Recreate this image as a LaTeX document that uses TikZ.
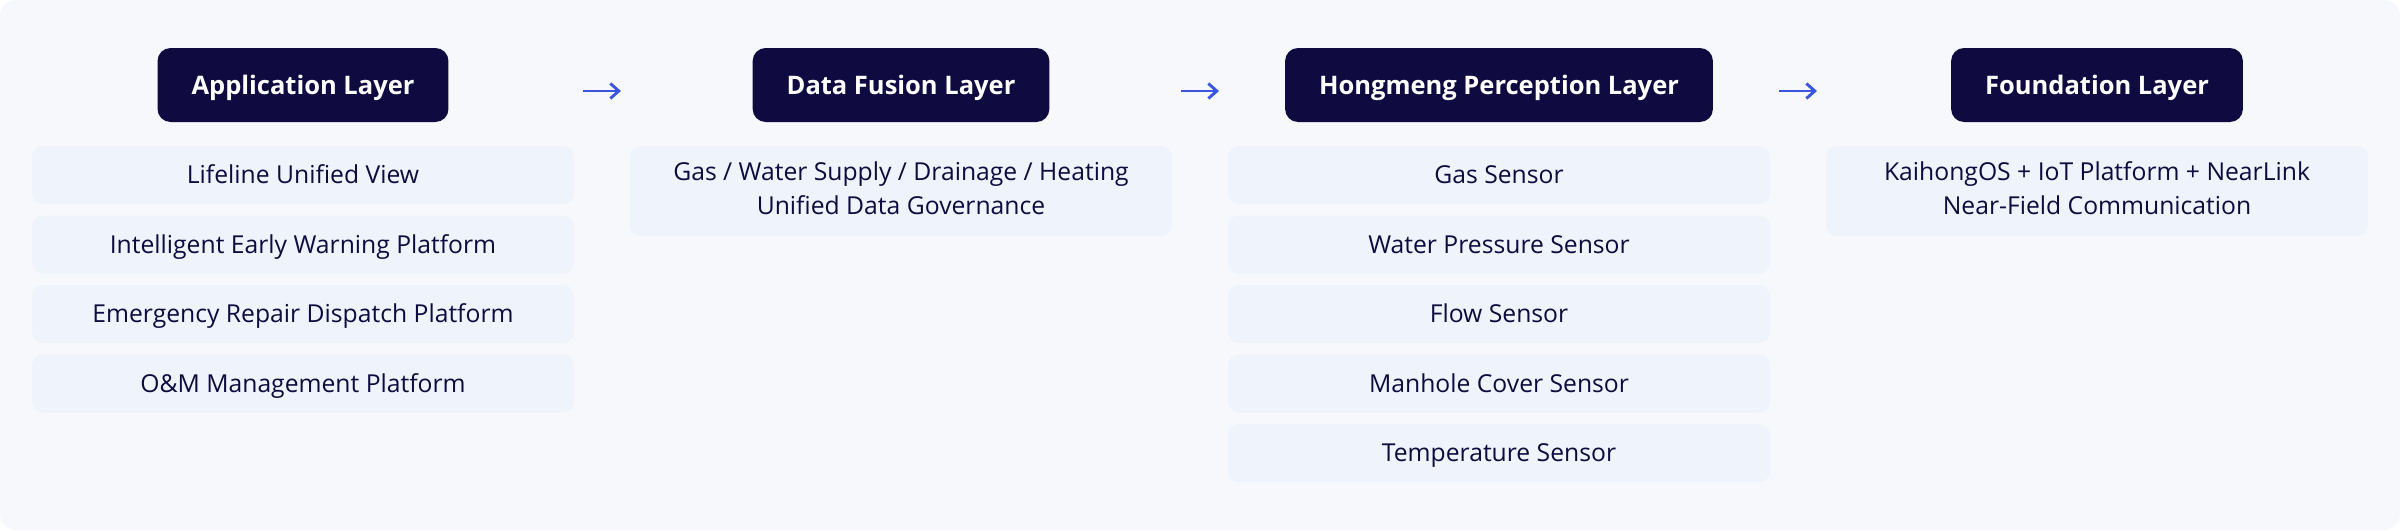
\documentclass[tikz,border=0pt]{standalone}
\usepackage{fontspec}
\setmainfont{Open Sans}
\usetikzlibrary{arrows.meta}

\definecolor{bgc}{HTML}{F7F8FB}
\definecolor{itemc}{HTML}{EEF3FC}
\definecolor{headc}{HTML}{0F0B41}
\definecolor{inkc}{HTML}{100B3F}
\definecolor{arrowc}{HTML}{3A55E0}

\newcommand{\lstrut}{\rule[-6pt]{0pt}{29.6pt}}

\begin{document}
\begin{tikzpicture}[x=1pt, y=-1pt,
    layer/.style={fill=headc, text=white, rounded corners=13pt, minimum height=74pt,
        inner xsep=34pt, inner ysep=0pt, text height=19pt, text depth=0pt,
        font=\fontsize{25.5}{30}\selectfont\bfseries},
    item/.style={fill=itemc, text=inkc, rounded corners=11pt, minimum width=542pt,
        minimum height=58pt, inner sep=0pt, align=center,
        font=\fontsize{24.7}{33.5}\selectfont,
        execute at begin node=\lstrut, execute at end node=\lstrut},
    flow/.style={draw=arrowc, line width=2.9pt, -{Straight Barb[length=8.5pt, width=15pt]}}]
    % Background
    \useasboundingbox (0,0) rectangle (2400,530);
    \fill[bgc, rounded corners=16pt] (0,0) rectangle (2400,530);

    % Application layer
    \node[layer] (app) at (303,85) {Application Layer};
    \node[item] (app1) at (303,175) {Lifeline Unified View};
    \node[item] (app2) at (303,244.5) {Intelligent Early Warning Platform};
    \node[item] (app3) at (303,314) {Emergency Repair Dispatch Platform};
    \node[item] (app4) at (303,383.5) {O\&M Management Platform};

    % Data fusion layer
    \node[layer] (fus) at (901,85) {Data Fusion Layer};
    \node[item, minimum height=90pt] (fus1) at (901,191) {Gas / Water Supply / Drainage / Heating\\Unified Data Governance};

    % Perception layer
    \node[layer] (per) at (1499,85) {Hongmeng Perception Layer};
    \node[item] (per1) at (1499,175) {Gas Sensor};
    \node[item] (per2) at (1499,244.5) {Water Pressure Sensor};
    \node[item] (per3) at (1499,314) {Flow Sensor};
    \node[item] (per4) at (1499,383.5) {Manhole Cover Sensor};
    \node[item] (per5) at (1499,453) {Temperature Sensor};

    % Foundation layer
    \node[layer] (fnd) at (2097,85) {Foundation Layer};
    \node[item, minimum height=90pt] (fnd1) at (2097,191) {KaihongOS + IoT Platform + NearLink\\Near-Field Communication};

    % Arrows between the layers
    \coordinate (a1s) at (583,91);
    \coordinate (a1e) at (621,91);
    \coordinate (a2s) at (1181,91);
    \coordinate (a2e) at (1219,91);
    \coordinate (a3s) at (1779,91);
    \coordinate (a3e) at (1817,91);
    \draw[flow] (a1s) -- (a1e);
    \draw[flow] (a2s) -- (a2e);
    \draw[flow] (a3s) -- (a3e);
\end{tikzpicture}
\end{document}
